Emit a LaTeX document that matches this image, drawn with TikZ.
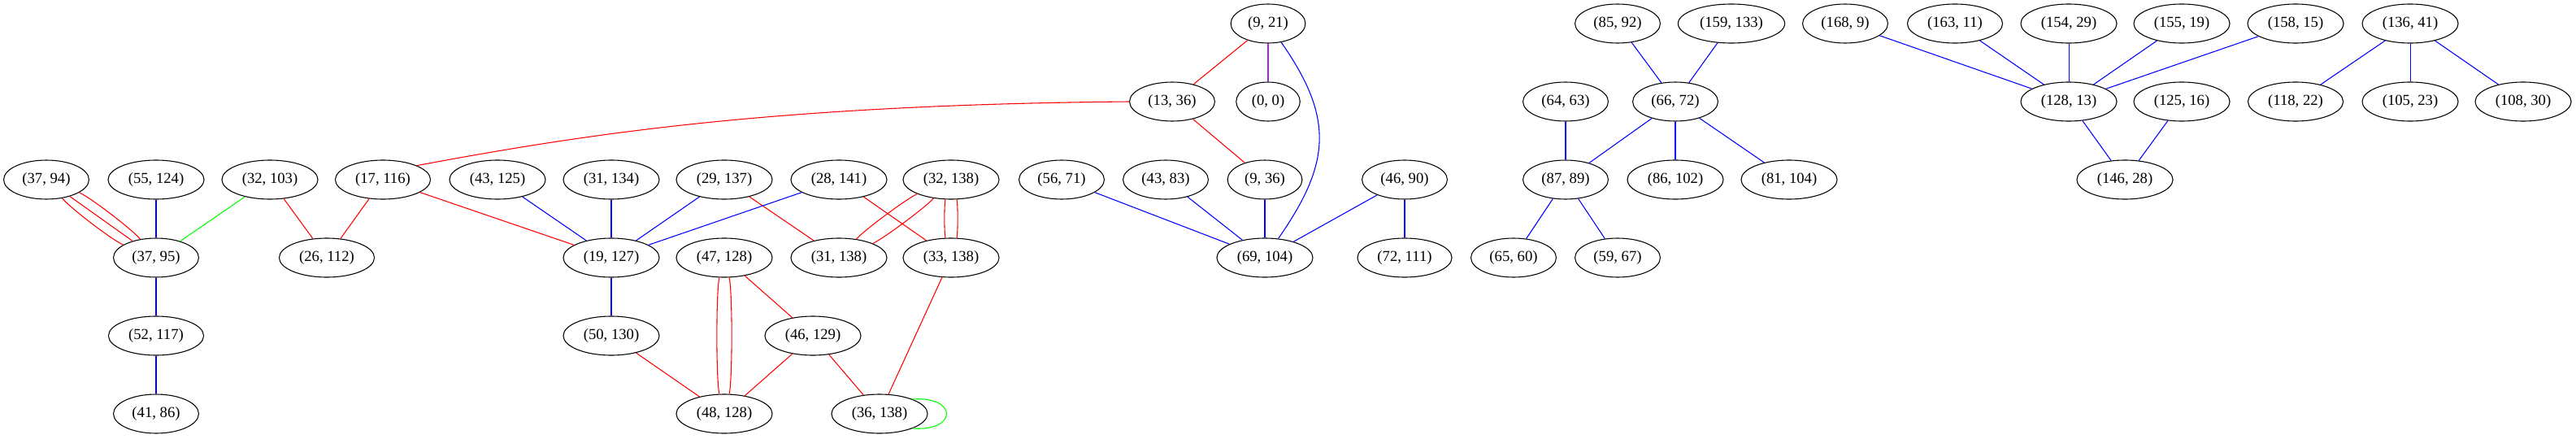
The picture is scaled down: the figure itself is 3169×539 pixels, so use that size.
\documentclass[tikz,border=0pt]{standalone}
\usepackage{fontspec}
\setmainfont{Liberation Serif}
\usepackage{tikz}
\usetikzlibrary{shapes.geometric}
\definecolor{vpurple}{HTML}{A020F0}
\tikzset{
  font={\fontsize{14pt}{16}\selectfont},
  pnode/.style={draw, shape=ellipse, inner xsep=5.65pt, inner ysep=2pt, minimum height=36pt}}

\begin{document}
\begin{tikzpicture}[thick, x=0.75pt, y=-0.75pt]
  \useasboundingbox (0,0) rectangle (3169,539);
  % top row
  \node (n921) [pnode] at (1560,29) {(9, 21)};
  \node (n8592) [pnode] at (1990,29) {(85, 92)};
  \node (n159133) [pnode] at (2130,29) {(159, 133)};
  \node (n1689) [pnode] at (2270,29) {(168, 9)};
  \node (n16311) [pnode] at (2405,29) {(163, 11)};
  \node (n15429) [pnode] at (2545,29) {(154, 29)};
  \node (n15519) [pnode] at (2684,29) {(155, 19)};
  \node (n15815) [pnode] at (2824,29) {(158, 15)};
  \node (n13641) [pnode] at (2965,29) {(136, 41)};
  % second row
  \node (n1336) [pnode] at (1442,125) {(13, 36)};
  \node (n00) [pnode] at (1560,125) {(0, 0)};
  \node (n6463) [pnode] at (1926,125) {(64, 63)};
  \node (n6672) [pnode] at (2061,125) {(66, 72)};
  \node (n12813) [pnode] at (2545,125) {(128, 13)};
  \node (n12516) [pnode] at (2684,125) {(125, 16)};
  \node (n11822) [pnode] at (2824,125) {(118, 22)};
  \node (n10523) [pnode] at (2965,125) {(105, 23)};
  \node (n10830) [pnode] at (3104,125) {(108, 30)};
  % third row
  \node (n3794) [pnode] at (57,221) {(37, 94)};
  \node (n55124) [pnode] at (192,221) {(55, 124)};
  \node (n32103) [pnode] at (332,221) {(32, 103)};
  \node (n17116) [pnode] at (471,221) {(17, 116)};
  \node (n43125) [pnode] at (612,221) {(43, 125)};
  \node (n31134) [pnode] at (752,221) {(31, 134)};
  \node (n29137) [pnode] at (891,221) {(29, 137)};
  \node (n28141) [pnode] at (1032,221) {(28, 141)};
  \node (n32138) [pnode] at (1170,221) {(32, 138)};
  \node (n5671) [pnode] at (1306,221) {(56, 71)};
  \node (n4383) [pnode] at (1434,221) {(43, 83)};
  \node (n936) [pnode] at (1556,221) {(9, 36)};
  \node (n4690) [pnode] at (1728,221) {(46, 90)};
  \node (n8789) [pnode] at (1926,221) {(87, 89)};
  \node (n86102) [pnode] at (2061,221) {(86, 102)};
  \node (n81104) [pnode] at (2201,221) {(81, 104)};
  \node (n14628) [pnode] at (2614,221) {(146, 28)};
  % fourth row
  \node (n3795) [pnode] at (192,317) {(37, 95)};
  \node (n26112) [pnode] at (402,317) {(26, 112)};
  \node (n19127) [pnode] at (752,317) {(19, 127)};
  \node (n47128) [pnode] at (891,317) {(47, 128)};
  \node (n31138) [pnode] at (1032,317) {(31, 138)};
  \node (n33138) [pnode] at (1170,317) {(33, 138)};
  \node (n69104) [pnode] at (1556,317) {(69, 104)};
  \node (n72111) [pnode] at (1728,317) {(72, 111)};
  \node (n6560) [pnode] at (1862,317) {(65, 60)};
  \node (n5967) [pnode] at (1990,317) {(59, 67)};
  % fifth and sixth rows
  \node (n52117) [pnode] at (192,413) {(52, 117)};
  \node (n50130) [pnode] at (752,413) {(50, 130)};
  \node (n46129) [pnode] at (1000,413) {(46, 129)};
  \node (n4186) [pnode] at (192,509) {(41, 86)};
  \node (n48128) [pnode] at (891,509) {(48, 128)};
  \node (n36138) [pnode] at (1082,509) {(36, 138)};

  % red edges
  \draw[red] (n3794) to[bend left=14, looseness=0.4] (n3795);
  \draw[red] (n3794) -- (n3795);
  \draw[red] (n3794) to[bend right=14, looseness=0.4] (n3795);
  \draw[red] (n32103) -- (n26112);
  \draw[red] (n17116) -- (n26112);
  \draw[red] (n17116) -- (n19127);
  \draw[red] (n1336.west) .. controls (950,129) and (720,165) .. (n17116.north east);
  \draw[red] (n29137) -- (n31138);
  \draw[red] (n28141) -- (n33138);
  \draw[red] (n32138) to[bend left=12, looseness=0.4] (n31138);
  \draw[red] (n32138) to[bend right=12, looseness=0.4] (n31138);
  \draw[red] (n32138) to[bend left=16, looseness=0.3] (n33138);
  \draw[red] (n32138) to[bend right=16, looseness=0.3] (n33138);
  \draw[red] (n47128) to[bend left=14, looseness=0.3] (n48128);
  \draw[red] (n47128) to[bend right=14, looseness=0.3] (n48128);
  \draw[red] (n47128) -- (n46129);
  \draw[red] (n50130) -- (n48128);
  \draw[red] (n46129) -- (n48128);
  \draw[red] (n46129) -- (n36138);
  \draw[red] (n33138) -- (n36138);
  \draw[red] (n921) -- (n1336);
  \draw[red] (n1336) -- (n936);
  % green edges
  \draw[green] (n32103) -- (n3795);
  \draw[green] (n36138.24) .. controls +(56,-4) and +(56,4) .. (n36138.-24);
  % purple edge
  \draw[vpurple] (n921) -- (n00);
  % blue edges
  \draw[blue] (n55124) -- (n3795);
  \draw[blue] (n3795) -- (n52117);
  \draw[blue] (n52117) -- (n4186);
  \draw[blue] (n43125) -- (n19127);
  \draw[blue] (n31134) -- (n19127);
  \draw[blue] (n29137) -- (n19127);
  \draw[blue] (n28141) -- (n19127);
  \draw[blue] (n19127) -- (n50130);
  \draw[blue] (n921) to[out=-55, in=55, looseness=1.2] (n69104);
  \draw[blue] (n5671) -- (n69104);
  \draw[blue] (n4383) -- (n69104);
  \draw[blue] (n936) -- (n69104);
  \draw[blue] (n4690) -- (n69104);
  \draw[blue] (n4690) -- (n72111);
  \draw[blue] (n8592) -- (n6672);
  \draw[blue] (n159133) -- (n6672);
  \draw[blue] (n6463) -- (n8789);
  \draw[blue] (n6672) -- (n8789);
  \draw[blue] (n6672) -- (n86102);
  \draw[blue] (n6672) -- (n81104);
  \draw[blue] (n8789) -- (n6560);
  \draw[blue] (n8789) -- (n5967);
  \draw[blue] (n1689) -- (n12813);
  \draw[blue] (n16311) -- (n12813);
  \draw[blue] (n15429) -- (n12813);
  \draw[blue] (n15519) -- (n12813);
  \draw[blue] (n15815) -- (n12813);
  \draw[blue] (n12813) -- (n14628);
  \draw[blue] (n12516) -- (n14628);
  \draw[blue] (n13641) -- (n11822);
  \draw[blue] (n13641) -- (n10523);
  \draw[blue] (n13641) -- (n10830);
\end{tikzpicture}
\end{document}
